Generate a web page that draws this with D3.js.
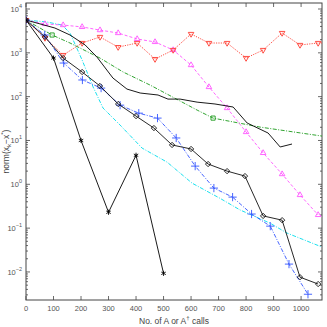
<!DOCTYPE html>
<html>
<head>
<meta charset="utf-8">
<script src="https://cdn.jsdelivr.net/npm/d3@7"></script>
<style>
  body { margin: 0; background: #fff; }
  svg { display: block; font-family: "Liberation Sans", "DejaVu Sans", sans-serif; }
</style>
</head>
<body>
<div id="chart"></div>
<script>
// Global variables.
let width = 327
let height = 327
let margins = {"left": 26, "right": 5, "top": 3, "bottom": 27};

// Tick labels.
const xTickValues = [0, 100, 200, 300, 400, 500, 600, 700, 800, 900, 1000]
const yTickExponents = [-2, -1, 0, 1, 2, 3, 4]

// Series: black solid with asterisks.
const starX = [0, 100, 200, 300, 400, 500]
const starY = [5600, 760, 10, 0.23, 4.6, 0.0093]

// Series: red dotted with down triangles.
const redX = [0, 69, 135, 204, 269, 335, 404, 469, 535, 600, 665, 731, 800, 862, 931, 996, 1062, 1128]
const redY = [5600, 2180, 890, 1675, 2300, 1350, 1675, 720, 1160, 2690, 1675, 1675, 760, 1160, 2830, 1510, 1675, 1700]

// Series: magenta dashed with up triangles.
const magX = [0, 69, 135, 204, 269, 335, 404, 469, 535, 600, 665, 731, 800, 862, 931, 996, 1062]
const magY = [5600, 4550, 4300, 3900, 3300, 2830, 2070, 1770, 1160, 526, 166, 55, 15.6, 5.2, 1.71, 0.57, 0.20]

// Series: green dash-dot with squares (markers only on some points).
const greenX = [0, 95, 160, 269, 353, 451, 622, 680, 851, 1076]
const greenY = [5600, 2550, 1675, 760, 365, 184, 49.4, 32.4, 20.2, 12.6]
const greenMarks = [1, 7]

// Series: black solid, no markers.
const plainX = [0, 105, 160, 215, 258, 316, 367, 415, 480, 516, 560, 622, 687, 753, 804, 880, 924, 967]
const plainY = [5600, 3680, 2550, 1510, 800, 266, 149, 121, 109, 88, 88, 75, 68, 58, 25, 14.8, 7.1, 8.3]

// Series: black solid with diamonds.
const diaX = [0, 69, 135, 204, 269, 335, 400, 465, 531, 600, 662, 731, 796, 862, 931, 996, 1062]
const diaY = [5600, 2300, 760, 365, 175, 68, 36, 19.2, 7.9, 6.4, 2.9, 2.0, 1.54, 0.19, 0.152, 0.0076, 0.0053]

// Series: blue dash-dot with plus markers.
const blueX = [0, 68, 137, 205, 273, 342, 410, 478, 546, 615, 683, 751, 820, 888, 956, 1025]
const blueY = [5600, 2550, 585, 240, 157, 64, 42, 32.4, 11.4, 2.6, 0.82, 0.51, 0.21, 0.111, 0.0151, 0.0031]

// Series: cyan dash-dot, no markers.
const cyanX = [0, 76, 131, 160, 204, 244, 280, 342, 422, 513, 604, 705, 778, 887, 949, 1076]
const cyanY = [5600, 5050, 4300, 2830, 685, 166, 55, 22.5, 6.7, 3.2, 1.06, 0.48, 0.26, 0.13, 0.077, 0.037]

let innerW = width - margins.left - margins.right
let innerH = height - margins.top - margins.bottom
const axisColor = "#444"

// Main svg element.
let root = d3.select("#chart")
    .append("svg")
    .attr("width", width)
    .attr("height", height)
let svg = root.append("g")
    .attr("transform", "translate(" + margins.left + "," + margins.top + ")");

// Define axes ranges.
let xRange = d3.scaleLinear().domain([0, 1076]).range([0, innerW]);
let yRange = d3.scaleLog().domain([Math.pow(10, -2.64), Math.pow(10, 4.137)]).range([innerH, 0]);

svg.append("clipPath").attr("id", "clip")
    .append("rect").attr("width", innerW).attr("height", innerH)

// Ticks inside the box, MATLAB style.
let yMinor = []
for (let e = -3; e <= 4; e++) {
    for (let m = 1; m < 10; m++) {
        let v = m * Math.pow(10, e)
        if (v >= yRange.domain()[0] && v <= yRange.domain()[1]) yMinor.push(v)
    }
}
let ticks = svg.append("g").attr("stroke", axisColor).attr("stroke-width", 0.8)
xTickValues.forEach(function(t) {
    ticks.append("line").attr("x1", xRange(t)).attr("x2", xRange(t)).attr("y1", innerH).attr("y2", innerH - 4)
    ticks.append("line").attr("x1", xRange(t)).attr("x2", xRange(t)).attr("y1", 0).attr("y2", 4)
})
yMinor.forEach(function(v) {
    let major = Math.abs(Math.log10(v) - Math.round(Math.log10(v))) < 1e-9
    let len = major ? 4 : 2
    ticks.append("line").attr("x1", 0).attr("x2", len).attr("y1", yRange(v)).attr("y2", yRange(v))
    ticks.append("line").attr("x1", innerW).attr("x2", innerW - len).attr("y1", yRange(v)).attr("y2", yRange(v))
})

// Box.
svg.append("rect")
    .attr("width", innerW).attr("height", innerH)
    .attr("fill", "none").attr("stroke", axisColor).attr("stroke-width", 1)

// Tick labels.
svg.append("g").selectAll("text").data(xTickValues).enter().append("text")
    .attr("x", d => xRange(d))
    .attr("y", innerH + 11)
    .attr("text-anchor", "middle")
    .attr("font-size", 7.5)
    .attr("fill", "#555")
    .text(d => d)

let yLab = svg.append("g").selectAll("text").data(yTickExponents).enter().append("text")
    .attr("x", -4)
    .attr("y", d => yRange(Math.pow(10, d)) + 3)
    .attr("text-anchor", "end")
    .attr("font-size", 7.5)
    .attr("fill", "#555")
yLab.append("tspan").text("10")
yLab.append("tspan").attr("dy", -4).attr("font-size", 5.5).text(d => d < 0 ? "\u2212" + (-d) : d)

// Axis labels.
let xl = svg.append("text")
    .attr("x", innerW / 2)
    .attr("y", innerH + 24)
    .attr("text-anchor", "middle")
    .attr("font-size", 8.5)
    .attr("fill", "#444")
xl.append("tspan").text("No. of A or A")
xl.append("tspan").attr("dy", -4).attr("font-size", 6).text("\u2020")
xl.append("tspan").attr("dy", 4).text(" calls")

let yl = svg.append("text")
    .attr("transform", "translate(" + (-17) + "," + (innerH / 2) + ") rotate(-90)")
    .attr("text-anchor", "middle")
    .attr("font-size", 8.5)
    .attr("fill", "#444")
yl.append("tspan").text("norm(x")
yl.append("tspan").attr("dy", 2).attr("font-size", 6).text("k")
yl.append("tspan").attr("dy", -2).text("\u2212x")
yl.append("tspan").attr("dy", -4).attr("font-size", 6).text("*")
yl.append("tspan").attr("dy", 4).text(")")

// Series definitions.
let series = [
    {x: cyanX, y: cyanY, color: "#00dcec", dash: "4,1.5,1,1.5", symbol: null},
    {x: greenX, y: greenY, color: "#1a9a1a", dash: "4,1.5,1,1.5", symbol: d3.symbolSquare2, size: 22, marks: greenMarks},
    {x: magX, y: magY, color: "#ff55ff", dash: "3,2", symbol: d3.symbolTriangle2, size: 22},
    {x: redX, y: redY, color: "#ff3b30", dash: "1.2,1.2", symbol: d3.symbolTriangle2, size: 22, rotate: 180},
    {x: plainX, y: plainY, color: "#000", dash: null, symbol: null},
    {x: blueX, y: blueY, color: "#3355ff", dash: "4,1.5,1,1.5", symbol: d3.symbolPlus, size: 24},
    {x: diaX, y: diaY, color: "#111", dash: null, symbol: d3.symbolDiamond2, size: 18},
    {x: starX, y: starY, color: "#000", dash: null, symbol: d3.symbolAsterisk, size: 18}
]

let line = d3.line().x(d => xRange(d[0])).y(d => yRange(d[1]))
let plot = svg.append("g").attr("clip-path", "url(#clip)")

series.forEach(function(s) {
    let pts = s.x.map((v, i) => [v, s.y[i]])
    plot.append("path")
        .datum(pts)
        .attr("d", line)
        .attr("fill", "none")
        .attr("stroke", s.color)
        .attr("stroke-width", 0.9)
        .attr("stroke-dasharray", s.dash)
    if (s.symbol) {
        let idx = s.marks ? s.marks : pts.map((p, i) => i)
        plot.append("g").selectAll("path")
            .data(idx.map(i => pts[i]))
            .enter()
            .append("path")
            .attr("d", d3.symbol().type(s.symbol).size(s.size))
            .attr("transform", d => "translate(" + xRange(d[0]) + "," + yRange(d[1]) + ")" + (s.rotate ? " rotate(" + s.rotate + ")" : ""))
            .attr("fill", "none")
            .attr("stroke", s.color)
            .attr("stroke-width", 0.9)
    }
})
</script>
</body>
</html>
